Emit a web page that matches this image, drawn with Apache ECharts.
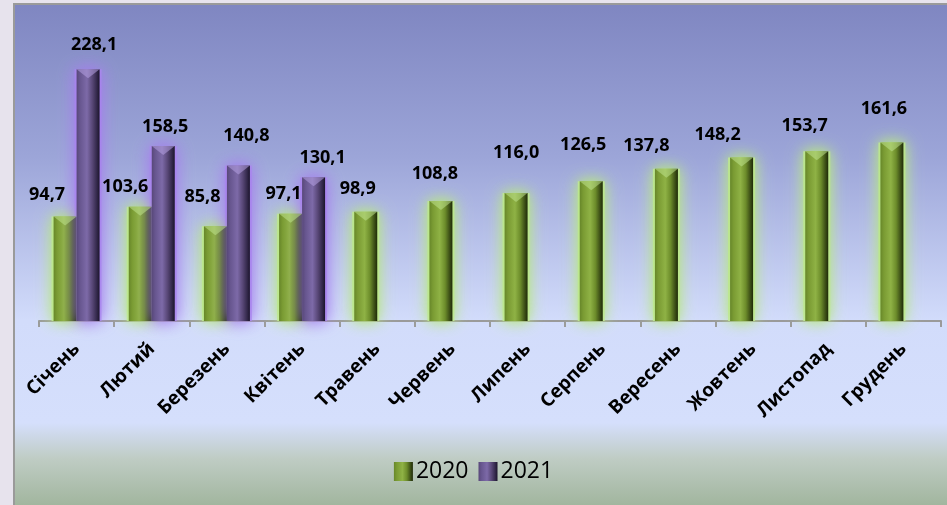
<!DOCTYPE html>
<html>
<head>
<meta charset="utf-8">
<script src="https://cdn.jsdelivr.net/npm/echarts@6/dist/echarts.min.js"></script>
<style>
html,body{margin:0;padding:0;background:#e7e3ed;}
#c{width:947px;height:505px;}
</style>
</head>
<body>
<div id="c"></div>
<script>
// ---- data ----
const categories = ['Січень','Лютий','Березень','Квітень','Травень','Червень','Липень','Серпень','Вересень','Жовтень','Листопад','Грудень'];
const seriesNames = ['2020','2021'];
const values2020 = [94.7,103.6,85.8,97.1,98.9,108.8,116.0,126.5,137.8,148.2,153.7,161.6];
const values2021 = [228.1,158.5,140.8,130.1,null,null,null,null,null,null,null,null];

// ---- label nudges (style only) ----
const labelDx2020 = [-18,-15,-13,-7,-8,-6,0,-8,-20,-24,-12,-8];
const labelGap2020 = [16,14,23,14,17,21,34,30,17,17,19,28];
const labelDx2021 = [6,2,8,9];
const labelGap2021 = [18,13,24,13];
const K = 3;

const fmt = v => v.toFixed(1).replace('.', ',');

function grad(stops){
  return {type:'linear',x:0,y:0,x2:1,y2:0,colorStops:stops.map(s=>({offset:s[0],color:s[1]}))};
}
const greenGrad = grad([[0,'#67872a'],[0.15,'#7a9b33'],[0.45,'#8fb245'],[0.68,'#6d8d2b'],[0.87,'#3e5117'],[1,'#1f2b08']]);
const purpleGrad = grad([[0,'#584879'],[0.15,'#67568f'],[0.45,'#7d6aa8'],[0.68,'#594878'],[0.87,'#352a4d'],[1,'#1c152c']]);

function build(values, dx, gap){
  return values.map((v,i)=>{
    if (v === null) return null;
    const o = {value:v};
    if (dx[i] !== undefined) {
      o.label = {offset:[dx[i], -(gap[i]-K)]};
    }
    return o;
  });
}

const chart = echarts.init(document.getElementById('c'), null, {renderer:'canvas'});
const topBevel = 'path://M0,0 L10,0 L5,4 Z';
const glowStyle = c => ({color:c, shadowBlur:18, shadowColor:c});
const option = {
  animation:false,
  backgroundColor:'#e7e3ed',
  graphic:[{
    type:'rect', z:-10, silent:true,
    shape:{x:14,y:4,width:940,height:510},
    style:{
      fill:{type:'linear',x:0,y:0,x2:0,y2:1,colorStops:[
        {offset:0,color:'#7f86c1'},
        {offset:0.3,color:'#9ca5d8'},
        {offset:0.62,color:'#d2dcfb'},
        {offset:0.82,color:'#d5dffc'},
        {offset:0.89,color:'#bfccc4'},
        {offset:1,color:'#9bb196'}]},
      stroke:'#9a9a9a', lineWidth:2
    }
  }],
  grid:{left:39,right:6,top:45,bottom:184,containLabel:false},
  legend:{
    data:seriesNames,
    bottom:17,
    left:'center',
    itemWidth:19,itemHeight:19,itemGap:10,
    icon:'rect',
    textStyle:{fontFamily:'Open Sans',fontSize:23,color:'#000',padding:[0,0,0,-2]},
    itemStyle:{shadowBlur:0,shadowColor:'transparent'}
  },
  xAxis:[{
    type:'category',
    data:categories,
    axisLine:{lineStyle:{color:'#9a9a9a',width:2}},
    axisTick:{show:true,length:6,lineStyle:{color:'#9a9a9a',width:2}},
    axisLabel:{rotate:45,margin:25,interval:0,color:'#000',fontFamily:'Open Sans',fontWeight:'bold',fontSize:19}
  },{
    type:'category', data:categories, show:false, position:'bottom'
  }],
  yAxis:{type:'value',min:0,max:250,show:false,splitLine:{show:false}},
  series:[
    {
      name:'2020',type:'bar',barWidth:23,barGap:'0%',z:3,
      data:build(values2020,labelDx2020,labelGap2020),
      itemStyle:{color:greenGrad,shadowBlur:14,shadowColor:'rgba(178,228,120,1)'},
      label:{show:true,position:'top',distance:0,formatter:p=>fmt(p.value),
        fontFamily:'Open Sans',fontWeight:'bold',fontSize:18,color:'#000'}
    },
    {
      name:'2021',type:'bar',barWidth:23,barGap:'0%',z:3,
      data:build(values2021,labelDx2021,labelGap2021),
      itemStyle:{color:purpleGrad,shadowBlur:16,shadowColor:'rgba(160,120,235,1)'},
      label:{show:true,position:'top',distance:0,formatter:p=>fmt(p.value),
        fontFamily:'Open Sans',fontWeight:'bold',fontSize:18,color:'#000'}
    },
    {
      name:'2020',type:'pictorialBar',barWidth:23,barGap:'0%',
      symbol:topBevel,symbolSize:[23,9],symbolPosition:'end',symbolOffset:[0,0],
      data:values2020,z:5,silent:true,
      itemStyle:{color:'rgba(190,225,140,0.55)'}
    },
    {
      name:'2021',type:'pictorialBar',barWidth:23,barGap:'0%',
      symbol:topBevel,symbolSize:[23,9],symbolPosition:'end',symbolOffset:[0,0],
      data:values2021,z:5,silent:true,
      itemStyle:{color:'rgba(180,160,225,0.55)'}
    },
    {
      name:'2020',type:'pictorialBar',xAxisIndex:1,barWidth:23,barGap:'0%',
      symbol:'rect',symbolSize:[27,'100%'],symbolPosition:'start',
      data:values2020,z:1,silent:true,
      itemStyle:glowStyle('rgba(196,236,150,0.85)')
    },
    {
      name:'2021',type:'pictorialBar',xAxisIndex:1,barWidth:23,barGap:'0%',
      symbol:'rect',symbolSize:[27,'100%'],symbolPosition:'start',
      data:values2021,z:1,silent:true,
      itemStyle:glowStyle('rgba(175,140,240,0.8)')
    }
  ]
};
chart.setOption(option);
</script>
</body>
</html>
